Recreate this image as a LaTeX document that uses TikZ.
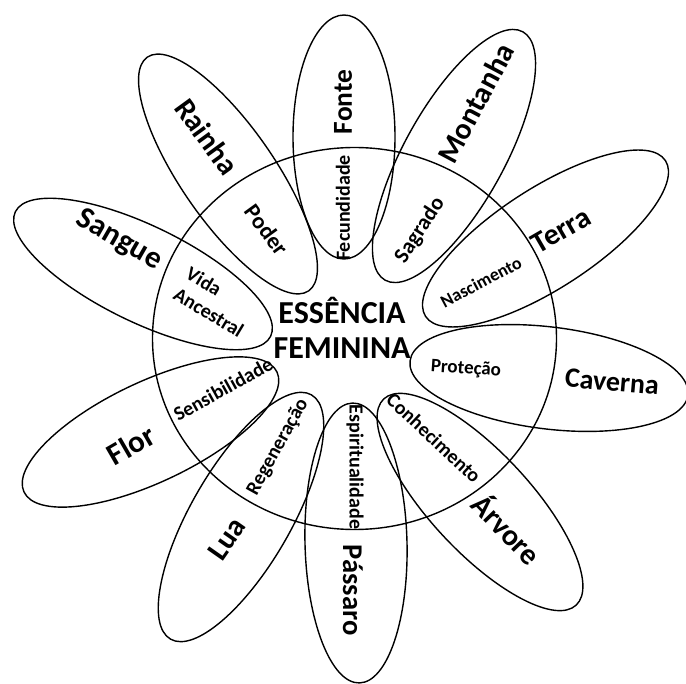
\documentclass[tikz,border=0pt]{standalone}
\usepackage{fontspec}
\setmainfont{Carlito}
\usetikzlibrary{shapes.geometric}
\begin{document}
\begin{tikzpicture}[x=0.5pt,y=-0.5pt,
  petal/.style={draw, ellipse, inner sep=0pt, line width=0.7pt},
  big/.style={font=\bfseries\fontsize{15}{18}\selectfont, inner sep=0pt},
  small/.style={font=\bfseries\fontsize{10}{12}\selectfont, inner sep=0pt, align=center}]
\useasboundingbox (0,0) rectangle (686,684);
% central circle
\node[petal, minimum width=202pt, minimum height=191pt] (core) at (354.5,338.5) {};
% petals
\node[petal, minimum width=122pt, minimum height=51pt, rotate=90] (pfonte) at (344,137) {};
\node[petal, minimum width=142pt, minimum height=50pt, rotate=61] (pmont) at (454,156) {};
\node[petal, minimum width=143pt, minimum height=50pt, rotate=33] (pterra) at (545.5,238.5) {};
\node[petal, minimum width=140pt, minimum height=51pt, rotate=-7] (pcav) at (549,378) {};
\node[petal, minimum width=141pt, minimum height=50pt, rotate=-47] (parv) at (480,502) {};
\node[petal, minimum width=140pt, minimum height=51pt, rotate=-88.6] (ppass) at (356,543) {};
\node[petal, minimum width=141pt, minimum height=50pt, rotate=60] (plua) at (241,517) {};
\node[petal, minimum width=140pt, minimum height=50pt, rotate=25.4] (pflor) at (150.5,432) {};
\node[petal, minimum width=142pt, minimum height=48pt, rotate=-26] (psang) at (143,274) {};
\node[petal, minimum width=142pt, minimum height=47pt, rotate=-55.4] (prain) at (228,174) {};
% labels
\node[font=\bfseries\fontsize{16}{17.5}\selectfont, align=center] (title) at (342,328) {ESSÊNCIA\\FEMININA};
\node[big, font=\bfseries\fontsize{13.7}{16}\selectfont, rotate=90] (tfonte) at (343,102) {Fonte};
\node[small, rotate=90] (tfec) at (343,208) {Fecundidade};
\node[big, rotate=62] (tmont) at (476,103) {Montanha};
\node[small, font=\bfseries\fontsize{11}{13}\selectfont, rotate=57] (tsag) at (420,230) {Sagrado};
\node[big, rotate=30] (tterra) at (561,230) {Terra};
\node[small, font=\bfseries\fontsize{9}{11}\selectfont, rotate=28] (tnasc) at (481,282) {Nascimento};
\node[big, font=\bfseries\fontsize{14}{16}\selectfont, rotate=-5] (tcav) at (612,382) {Caverna};
\node[small, font=\bfseries\fontsize{9.5}{11}\selectfont, rotate=-4] (tprot) at (466,369) {Proteção};
\node[small, rotate=-43] (tconh) at (434,438) {Conhecimento};
\node[big, rotate=-46] (tarv) at (508,528) {Árvore};
\node[small, rotate=-90] (tesp) at (355,467) {Espiritualidade};
\node[big, font=\bfseries\fontsize{14.3}{16}\selectfont, rotate=-90] (tpass) at (353,590) {Pássaro};
\node[big, rotate=55] (tlua) at (227,539) {Lua};
\node[small, rotate=61] (treg) at (278,447) {Regeneração};
\node[big, font=\bfseries\fontsize{15.5}{18}\selectfont, rotate=30] (tflor) at (131,445) {Flor};
\node[small, rotate=29] (tsens) at (223,389) {Sensibilidade};
\node[big, font=\bfseries\fontsize{15.5}{18}\selectfont, rotate=-30] (tsang) at (119,240) {Sangue};
\node[small, font=\bfseries\fontsize{10}{12}\selectfont, align=left, rotate=-31] (tvida) at (215,302) {Vida\\Ancestral};
\node[small, font=\bfseries\fontsize{11.5}{13}\selectfont, rotate=-54] (tpoder) at (267,230) {Poder};
\node[big, rotate=-54] (train) at (207,137) {Rainha};
\end{tikzpicture}
\end{document}
